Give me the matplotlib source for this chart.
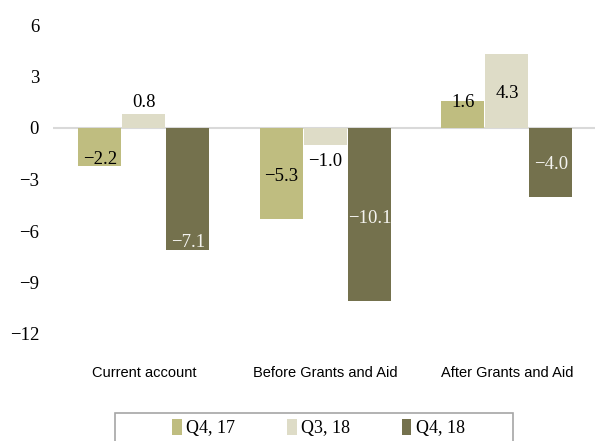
import matplotlib.pyplot as plt
from matplotlib.patches import Rectangle
import numpy as np

categories = ["Current account", "Before Grants and Aid", "After Grants and Aid"]
series_names = ["Q4, 17", "Q3, 18", "Q4, 18"]
q4_17 = [-2.2, -5.3, 1.6]
q3_18 = [0.8, -1.0, 4.3]
q4_18 = [-7.1, -10.1, -4.0]
yticks = [-12, -9, -6, -3, 0, 3, 6]

colors = ["#BFBD80", "#DEDCC7", "#74714D"]
text_colors = ["black", "black", "#F4F4F0"]
# where each value label sits (data units)
label_y = [[-1.86, -2.85, 1.51],
           [1.51, -1.98, 2.03],
           [-6.69, -5.29, -2.15]]

serif = ["Liberation Serif", "DejaVu Serif"]
sans = ["Liberation Sans Narrow", "Liberation Sans", "DejaVu Sans"]

fig = plt.figure(figsize=(5.95, 4.41), dpi=100)
ax = fig.add_axes([53 / 595, 107 / 441, 542 / 595, 309 / 441])

x = np.arange(len(categories))
pitch = 0.2424
width = 0.237
for i, vals in enumerate([q4_17, q3_18, q4_18]):
    xs = x + (i - 1) * pitch
    ax.bar(xs, vals, width, color=colors[i], label=series_names[i], zorder=2)
    for xx, v, ly in zip(xs, vals, label_y[i]):
        ax.text(xx, ly, f"{v:.1f}".replace("-", "\u2212"), ha="center", va="center",
                fontsize=13.5, family=serif, color=text_colors[i], zorder=3)

ax.axhline(0, color="#D9D9D9", lw=1.5, zorder=1)
ax.set_xlim(-0.5, 2.485)
ax.set_ylim(-12, 6)
ax.set_yticks(yticks)
ax.set_yticklabels([str(t).replace("-", "\u2212") for t in yticks], family=serif, fontsize=13.5)
ax.set_xticks(x)
ax.set_xticklabels(categories, family=sans, fontsize=10.5)
ax.tick_params(axis="y", length=0, pad=10)
ax.tick_params(axis="x", length=0, pad=23)
for s in ax.spines.values():
    s.set_visible(False)

# legend box
fig.patches.append(Rectangle((115 / 595, -0.05), 398 / 595, (441 - 413) / 441 + 0.05,
                             transform=fig.transFigure, fill=False,
                             edgecolor="#A6A6A6", lw=1.2))
fig.legend(loc="center", bbox_to_anchor=(0.535, 13 / 441), ncol=3, frameon=False,
           prop={"family": serif, "size": 13}, handlelength=0.55, handleheight=1.0,
           handletextpad=0.25, columnspacing=2.85, borderpad=0)

fig.savefig("out.png", dpi=100)
